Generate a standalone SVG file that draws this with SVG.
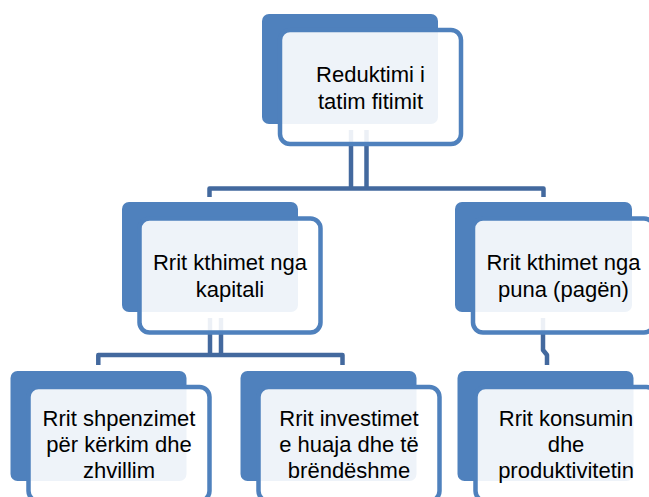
<svg xmlns="http://www.w3.org/2000/svg" width="649" height="497" viewBox="0 0 649 497">
<style>
.back{fill:#4F81BD}
.box{fill:#FFFFFF;fill-opacity:0.9;stroke:#4F81BD;stroke-width:4.5}
.con{fill:none;stroke:#43699E;stroke-width:4.5;stroke-linejoin:round}
text{font-family:"Liberation Sans",Arial,sans-serif;font-size:22px;fill:#000;text-anchor:middle}
</style>
<rect width="649" height="497" fill="#FFFFFF"/>
<g id="connectors">
<path class="con" d="M351,130 V188.5 M366.5,130 V188.5"/>
<path class="con" d="M209.5,197 V188.5 H543.5 V197"/>
<path class="con" d="M210,318 V355 M221,318 V355"/>
<path class="con" d="M98.3,365 V355 H342.5 V365"/>
<path class="con" d="M543,318 V350 L547,355 V365"/>
</g>
<g id="node-top">
<rect class="back" x="262" y="14" width="176" height="110" rx="7"/>
<rect class="box" x="280" y="30" width="181" height="114" rx="10"/>
<text x="370.5" y="82">Reduktimi i</text>
<text x="370.5" y="109">tatim fitimit</text>
</g>
<g id="node-capital">
<rect class="back" x="122" y="202" width="176" height="110" rx="7"/>
<rect class="box" x="139.5" y="218.5" width="181" height="114" rx="10"/>
<text x="230" y="270">Rrit kthimet nga</text>
<text x="230" y="297">kapitali</text>
</g>
<g id="node-labour">
<rect class="back" x="455" y="202" width="177" height="110" rx="7"/>
<rect class="box" x="473" y="218.5" width="181" height="114" rx="10"/>
<text x="563.5" y="270">Rrit kthimet nga</text>
<text x="563.5" y="297">puna (pagën)</text>
</g>
<g id="node-rd">
<rect class="back" x="10.5" y="371" width="176" height="110" rx="7"/>
<rect class="box" x="28.5" y="387" width="181" height="114" rx="10"/>
<text x="119" y="426">Rrit shpenzimet</text>
<text x="119" y="452">për kërkim dhe</text>
<text x="119" y="478">zhvillim</text>
</g>
<g id="node-invest">
<rect class="back" x="240.5" y="371" width="176" height="110" rx="7"/>
<rect class="box" x="258.5" y="387" width="181" height="114" rx="10"/>
<text x="349" y="426">Rrit investimet</text>
<text x="349" y="452">e huaja dhe të</text>
<text x="349" y="478">brëndëshme</text>
</g>
<g id="node-consumption">
<rect class="back" x="457.5" y="371" width="176" height="110" rx="7"/>
<rect class="box" x="475.5" y="387" width="181" height="114" rx="10"/>
<text x="566" y="426">Rrit konsumin</text>
<text x="566" y="452">dhe</text>
<text x="566" y="478">produktivitetin</text>
</g>
</svg>
